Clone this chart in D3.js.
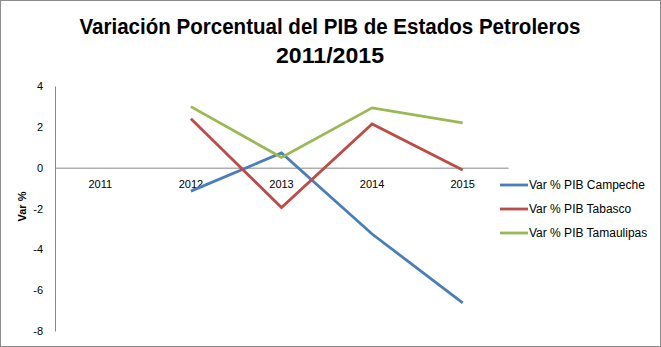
<!DOCTYPE html>
<html>
<head>
<meta charset="utf-8">
<script src="https://cdn.jsdelivr.net/npm/d3@7/dist/d3.min.js"></script>
<style>
  html, body { margin: 0; padding: 0; background: #fff; }
  svg { display: block; }
  text { font-family: "Liberation Sans", Arial, sans-serif; fill: #000; }
</style>
</head>
<body>
<svg id="chart" width="661" height="347"></svg>
<script>
// Years on the category axis
const years = ["2011", "2012", "2013", "2014", "2015"];
// Percentage change of state GDP (null = no value for that year)
const campeche   = [null, -1.15, 0.72, -3.25, -6.62];
const tabasco    = [null, 2.40, -1.95, 2.14, -0.11];
const tamaulipas = [null, 2.99, 0.50, 2.93, 2.19];
const seriesNames = ["Var % PIB Campeche", "Var % PIB Tabasco", "Var % PIB Tamaulipas"];
const seriesColors = ["#4a7ebb", "#be4b48", "#98b954"];
const yTicks = [4, 2, 0, -2, -4, -6, -8];
const titleLines = ["Variación Porcentual del PIB de Estados Petroleros", "2011/2015"];
const titleWidths = [501, 108];

const W = 661, H = 347;
const svg = d3.select("#chart");

// Outer frame
svg.append("rect").attr("x", 0.5).attr("y", 0.5).attr("width", W - 1).attr("height", H - 1)
  .attr("fill", "#fff").attr("stroke", "#8c8c8c").attr("stroke-width", 1);

const plot = { left: 55, right: 508, top: 86, bottom: 331 };

const x = d3.scaleBand().domain(years).range([plot.left, plot.right]);
const y = d3.scaleLinear().domain([-8, 4]).range([plot.bottom, plot.top]);

// Title (condensed bold, two lines)
const title = svg.append("g");
titleLines.forEach((t, i) => {
  title.append("text")
    .attr("x", 330).attr("y", 34 + i * 29)
    .attr("text-anchor", "middle")
    .attr("textLength", titleWidths[i])
    .attr("lengthAdjust", "spacingAndGlyphs")
    .style("font-weight", "bold")
    .style("font-size", "22px")
    .text(t);
});

// Value axis
const yAxis = d3.axisLeft(y).tickValues(yTicks).tickSize(0).tickPadding(12).tickFormat(d => String(d));
const gy = svg.append("g").attr("transform", `translate(${plot.left},0)`).call(yAxis);
gy.select(".domain").attr("stroke", "#868686");
gy.selectAll("text").style("font-size", "11px").style("font-family", "'Liberation Sans', Arial, sans-serif");

// Zero line with category labels beneath
const xAxis = d3.axisBottom(x).tickSize(0).tickPadding(13);
const gx = svg.append("g").attr("transform", `translate(0,${y(0)})`).call(xAxis);
gx.select(".domain").attr("stroke", "#868686");
gx.selectAll("text").style("font-size", "11px").style("font-family", "'Liberation Sans', Arial, sans-serif");

// Axis title
svg.append("text")
  .attr("transform", `translate(26,${(plot.top + plot.bottom) / 2 - 2}) rotate(-90)`)
  .attr("text-anchor", "middle")
  .style("font-weight", "bold").style("font-size", "11px")
  .text("Var %");

// Lines
const line = d3.line()
  .defined(d => d.v !== null)
  .x(d => x(d.year) + x.bandwidth() / 2)
  .y(d => y(d.v));

[campeche, tabasco, tamaulipas].forEach((vals, i) => {
  const pts = years.map((yr, j) => ({ year: yr, v: vals[j] }));
  svg.append("path")
    .datum(pts)
    .attr("fill", "none")
    .attr("stroke", seriesColors[i])
    .attr("stroke-width", 2.8)
    .attr("stroke-linejoin", "miter")
    .attr("d", line);
});

// Legend
const legend = svg.append("g");
seriesNames.forEach((name, i) => {
  const ly = 185 + i * 24;
  legend.append("line")
    .attr("x1", 500).attr("x2", 528).attr("y1", ly).attr("y2", ly)
    .attr("stroke", seriesColors[i]).attr("stroke-width", 2.8);
  legend.append("text")
    .attr("x", 529).attr("y", ly + 4)
    .style("font-size", "12px")
    .text(name);
});
</script>
</body>
</html>
